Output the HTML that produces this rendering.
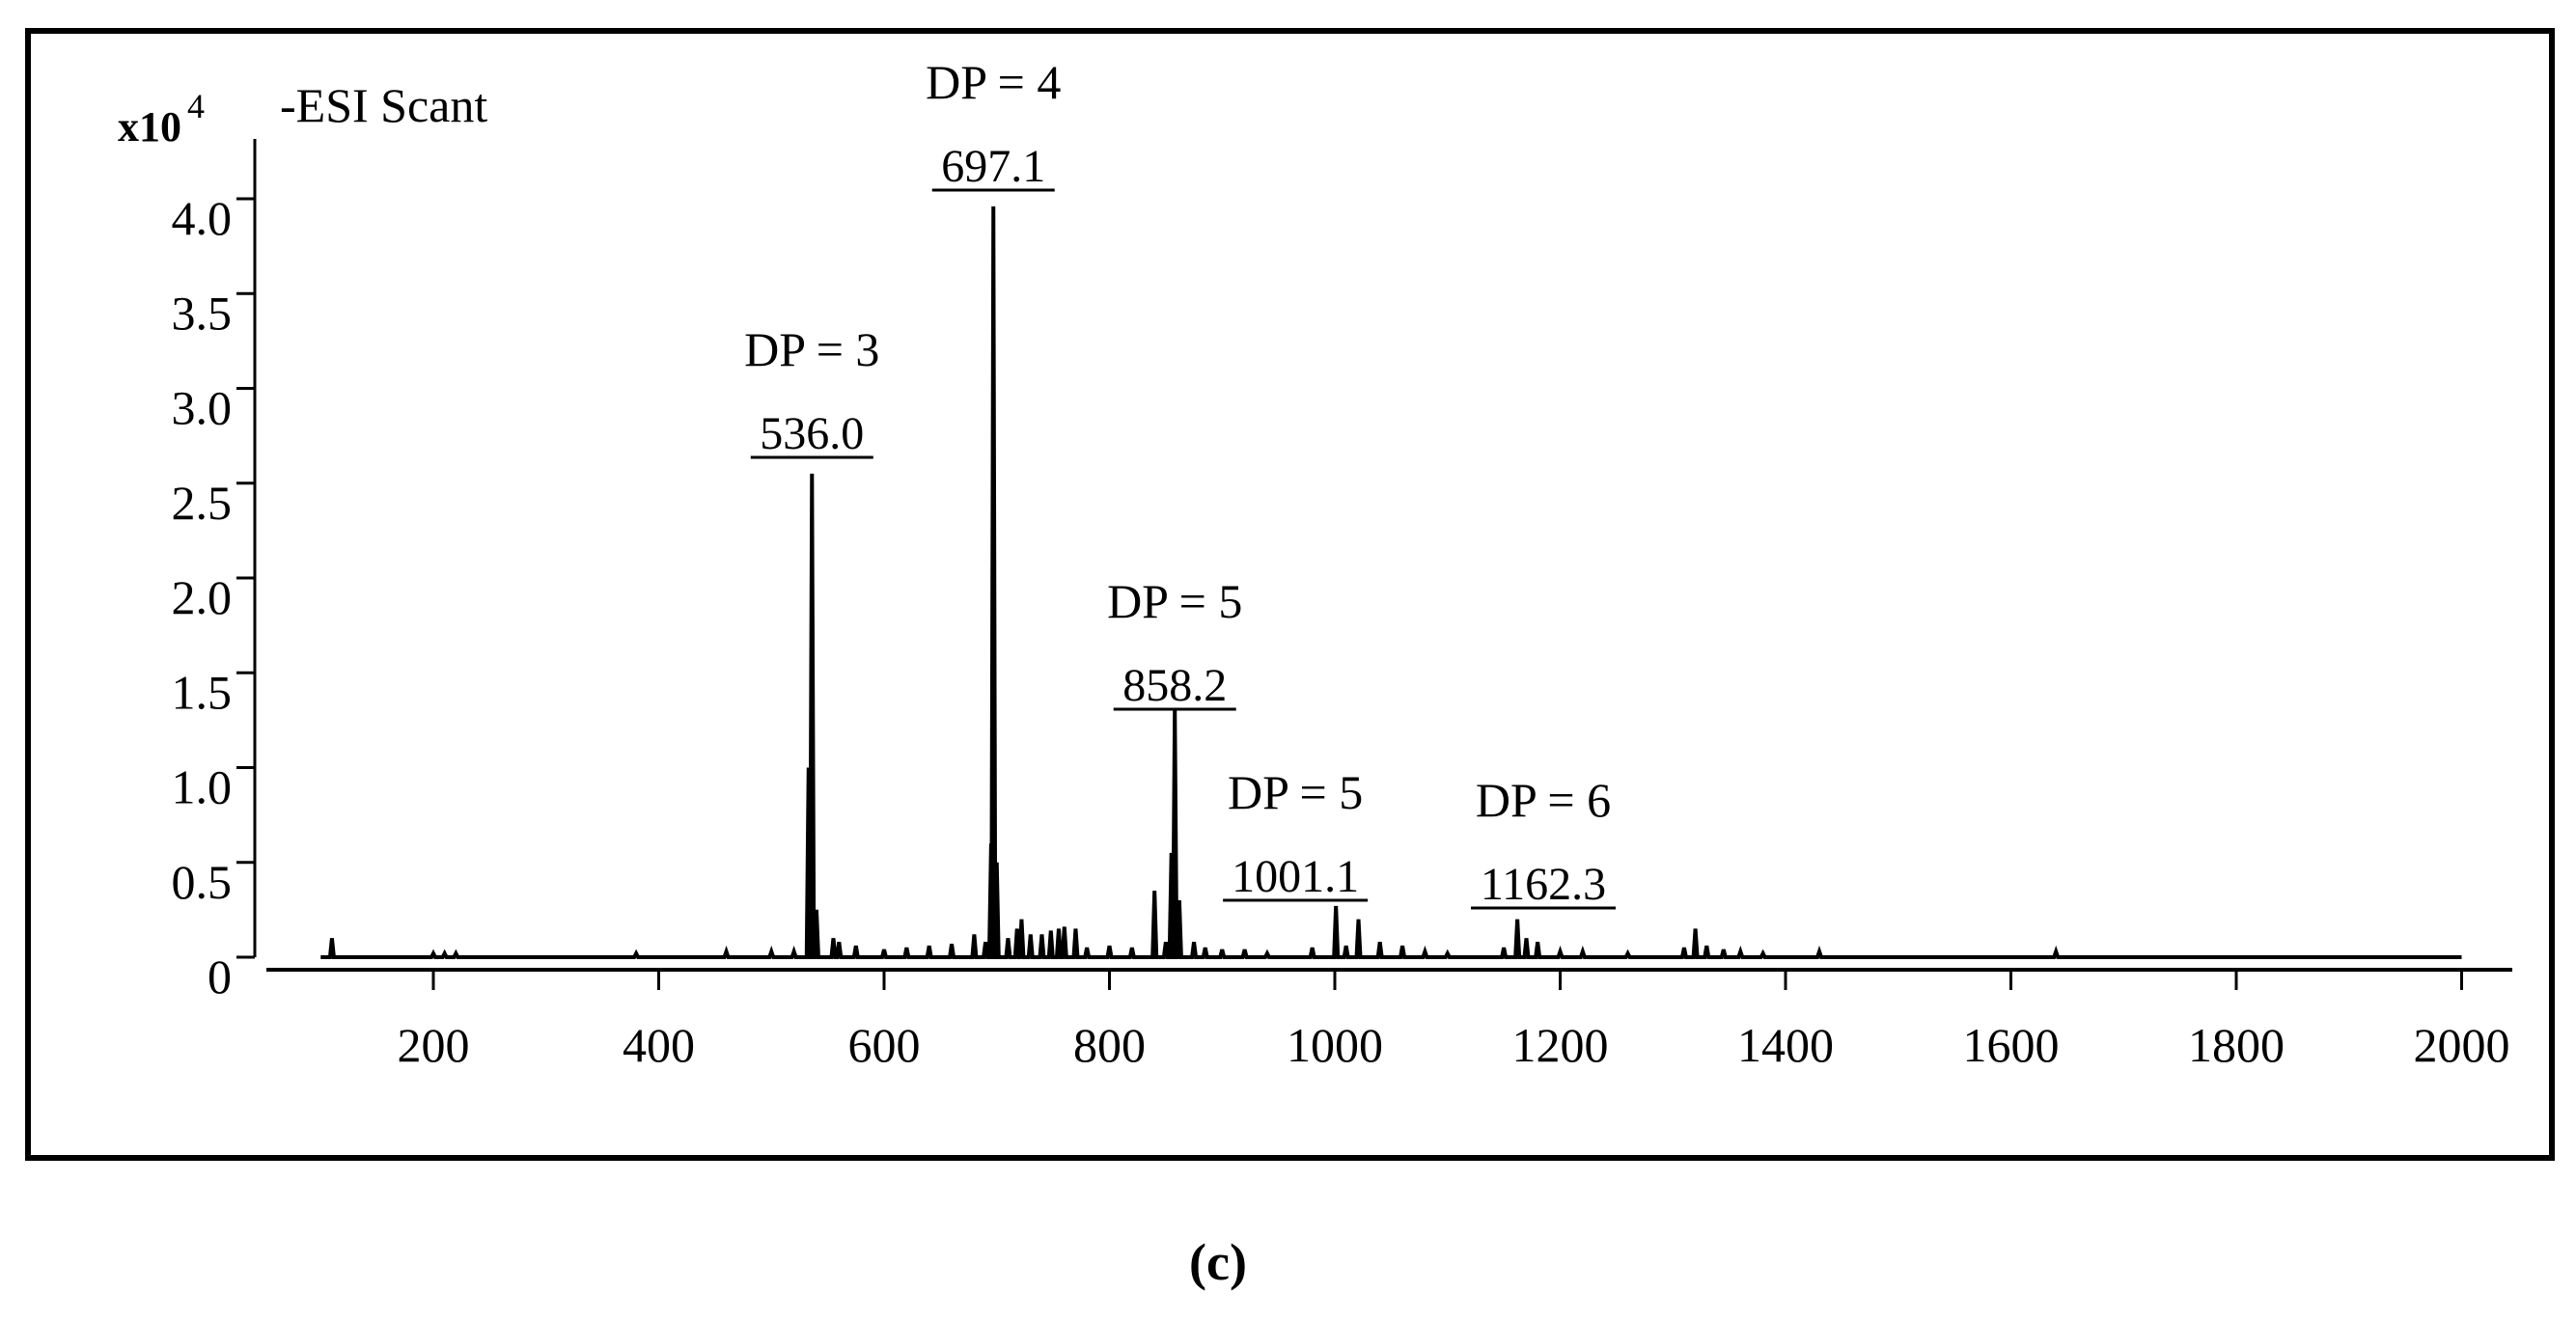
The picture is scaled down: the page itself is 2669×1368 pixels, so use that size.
<!DOCTYPE html>
<html><head><meta charset="utf-8"><style>
html,body{margin:0;padding:0;background:#fff}
svg{display:block;font-family:"Liberation Serif",serif}
</style></head><body>
<svg id="chart" width="2669" height="1368" viewBox="0 0 2669 1368" xmlns="http://www.w3.org/2000/svg">
<rect x="29" y="32" width="2615" height="1168" fill="none" stroke="#000" stroke-width="6"/>
<g id="axes"></g>
<g id="marks"></g>
<g id="labels"></g>
<text x="122" y="146" font-size="44" font-weight="bold">x10</text>
<text x="194" y="122" font-size="36">4</text>
<text x="290" y="126" font-size="50">-ESI Scant</text>
<text x="1262" y="1326" font-size="54" text-anchor="middle" font-weight="bold">(c)</text>
</svg>
<script>
const yTicks = [0,0.5,1.0,1.5,2.0,2.5,3.0,3.5,4.0];
const yTickLabels = ["0","0.5","1.0","1.5","2.0","2.5","3.0","3.5","4.0"];
const xTicks = [200,400,600,800,1000,1200,1400,1600,1800,2000];
const peakMz = [110,200,210,220,380,460,500,520,533,536,540,555,560,575,600,620,640,660,680,690,695,697,700,710,718,722,730,740,748,755,760,770,780,800,820,840,850,855,858,862,875,885,900,920,940,980,1001,1010,1021,1040,1060,1080,1100,1150,1162,1170,1180,1200,1220,1260,1310,1320,1330,1345,1360,1380,1430,1640];
const peakInt = [0.1,0.02,0.02,0.02,0.02,0.03,0.03,0.03,1.0,2.55,0.25,0.1,0.08,0.06,0.04,0.05,0.06,0.07,0.12,0.08,0.6,3.96,0.5,0.1,0.15,0.2,0.12,0.12,0.14,0.15,0.16,0.15,0.05,0.06,0.05,0.35,0.08,0.55,1.31,0.3,0.08,0.05,0.04,0.04,0.02,0.05,0.27,0.06,0.2,0.08,0.06,0.03,0.02,0.05,0.2,0.1,0.08,0.03,0.03,0.02,0.05,0.15,0.06,0.04,0.03,0.02,0.03,0.03];
const annoDP = ["DP = 3","DP = 4","DP = 5","DP = 5","DP = 6"];
const annoMass = ["536.0","697.1","858.2","1001.1","1162.3"];
const annoMz = [536,697,858,965,1185];
const annoY = [362,85,623,821,829];

const NS="http://www.w3.org/2000/svg";
function X(mz){return 449+(mz-200)*1.1675;}
function Y(v){return 992-v*196.5;}
function mk(tag,attrs,parent,text){const e=document.createElementNS(NS,tag);for(const k in attrs)e.setAttribute(k,attrs[k]);if(text!==undefined)e.textContent=text;parent.appendChild(e);return e;}
const axes=document.getElementById('axes'),marks=document.getElementById('marks'),labels=document.getElementById('labels');

let e=mk('line',{x1:264,y1:144,x2:264,y2:Y(0),stroke:'#000','stroke-width':3},axes);


e=mk('line',{x1:276,y1:1005,x2:2603,y2:1005,stroke:'#000','stroke-width':4},axes);


yTicks.forEach((t,i)=>{
  let l=mk('line',{x1:245,y1:Y(t),x2:264,y2:Y(t),stroke:'#000','stroke-width':3},axes);
  
  
  let tx=mk('text',{x:240,y:Y(t)+37,'font-size':50,'text-anchor':'end'},axes,yTickLabels[i]);
  
  
});
xTicks.forEach(t=>{
  let l=mk('line',{x1:X(t),y1:1005,x2:X(t),y2:1026,stroke:'#000','stroke-width':3},axes);
  
  
  let tx=mk('text',{x:X(t),y:1100,'font-size':50,'text-anchor':'middle'},axes,String(t));
  
  
});
let pts=[[X(100),Y(0)]];
peakMz.forEach((m,i)=>{pts.push([X(m)-2,Y(0)]);pts.push([X(m),Y(peakInt[i])]);pts.push([X(m)+2,Y(0)]);});
pts.push([X(2000),Y(0)]);
e=mk('polyline',{points:pts.map(p=>p.join(',')).join(' '),fill:'none',stroke:'#000','stroke-width':4},marks);


annoDP.forEach((d,i)=>{
  const cx=X(annoMz[i]),y=annoY[i];
  let t=mk('text',{x:cx,y:y+17,'font-size':50,'text-anchor':'middle'},labels,d);
  
  
  let m=mk('text',{x:cx,y:y+103,'font-size':48,'text-anchor':'middle'},labels,annoMass[i]);
  
  
  const w=annoMass[i].length*23+12;
  let u=mk('line',{x1:cx-w/2,y1:y+112,x2:cx+w/2,y2:y+112,stroke:'#000','stroke-width':3},labels);
  
  
});
</script>
</body></html>
